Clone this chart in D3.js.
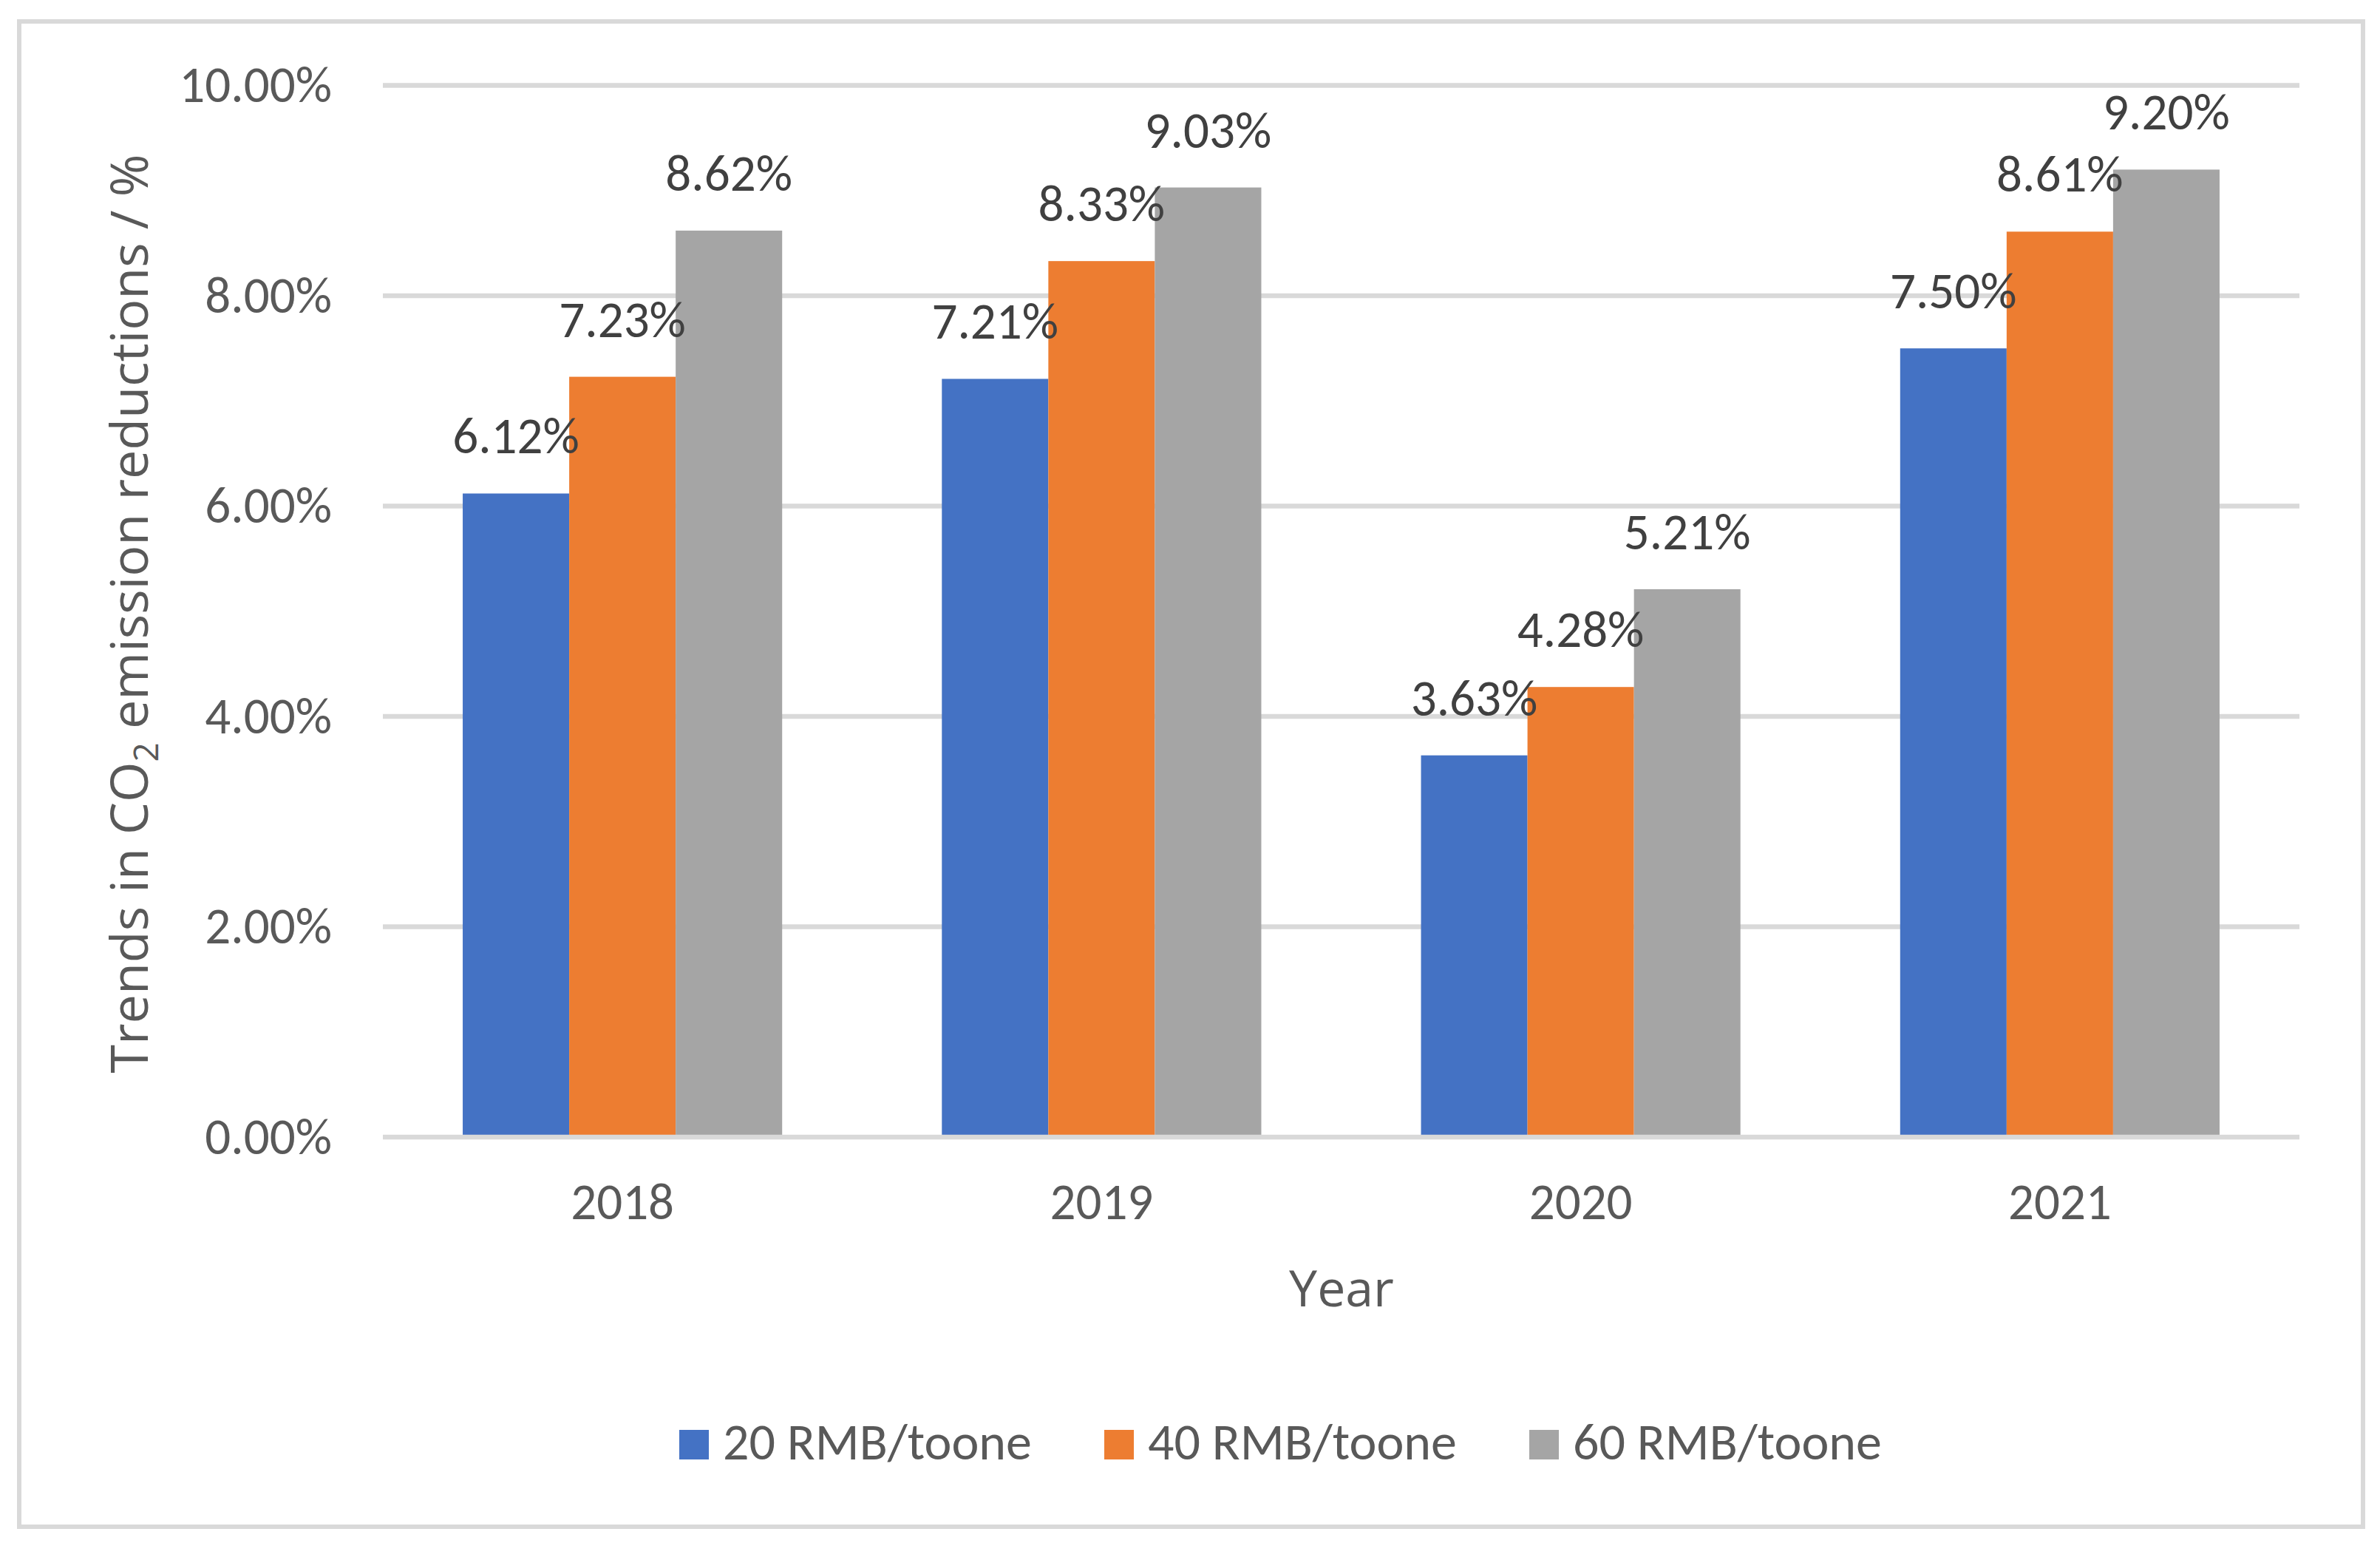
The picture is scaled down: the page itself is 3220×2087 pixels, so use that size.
<!DOCTYPE html>
<html>
<head>
<meta charset="utf-8">
<script src="https://cdn.jsdelivr.net/npm/d3@7"></script>
<style>
  body { margin: 0; background: #fff; }
</style>
</head>
<body>
<div class="chart"></div>
<script>
// chart data
var years = ["2018", "2019", "2020", "2021"];
var seriesNames = ["20 RMB/toone", "40 RMB/toone", "60 RMB/toone"];
var price20 = [0.0612, 0.0721, 0.0363, 0.0750];
var price40 = [0.0723, 0.0833, 0.0428, 0.0861];
var price60 = [0.0862, 0.0903, 0.0521, 0.0920];
var yTicks = [0, 0.02, 0.04, 0.06, 0.08, 0.10];
var colors = ["#4472C4", "#ED7D31", "#A5A5A5"];

var svgWidth = 3220;
var svgHeight = 2087;

var plot = { left: 518, right: 3111, top: 115.6, bottom: 1538 };

var labelFont = "Carlito, 'Liberation Sans', Arial, sans-serif";
var titleFont = "'Open Sans', 'Noto Sans', sans-serif";

var svg = d3.select(".chart")
  .append("svg")
  .attr("width", svgWidth)
  .attr("height", svgHeight);

svg.append("rect")
  .attr("width", svgWidth)
  .attr("height", svgHeight)
  .attr("fill", "#fff");

// outer chart border
svg.append("rect")
  .attr("x", 26)
  .attr("y", 29)
  .attr("width", 3197 - 26)
  .attr("height", 2065 - 29)
  .attr("fill", "none")
  .attr("stroke", "#D9D9D9")
  .attr("stroke-width", 6);

var x = d3.scaleBand()
  .domain(years)
  .range([plot.left, plot.right]);

// Excel style gap width 150%
var xSub = d3.scaleBand()
  .domain(seriesNames)
  .range([0, x.bandwidth()])
  .paddingOuter(0.75);

var y = d3.scaleLinear()
  .domain([0, 0.10])
  .range([plot.bottom, plot.top]);

var rows = [];
years.forEach(function(yr, i) {
  rows.push({ year: yr, series: seriesNames[0], value: price20[i] });
  rows.push({ year: yr, series: seriesNames[1], value: price40[i] });
  rows.push({ year: yr, series: seriesNames[2], value: price60[i] });
});

// gridlines
svg.append("g")
  .selectAll("line")
  .data(yTicks.filter(function(t) { return t > 0; }))
  .enter()
  .append("line")
  .attr("x1", plot.left)
  .attr("x2", plot.right)
  .attr("y1", d => y(d))
  .attr("y2", d => y(d))
  .attr("stroke", "#D9D9D9")
  .attr("stroke-width", 6.5);

// bars
svg.append("g")
  .selectAll("rect")
  .data(rows)
  .enter()
  .append("rect")
  .attr("x", d => x(d.year) + xSub(d.series))
  .attr("y", d => y(d.value))
  .attr("width", xSub.bandwidth())
  .attr("height", d => y(0) - y(d.value))
  .attr("fill", d => colors[seriesNames.indexOf(d.series)]);

// zero line
svg.append("line")
  .attr("x1", plot.left)
  .attr("x2", plot.right)
  .attr("y1", y(0))
  .attr("y2", y(0))
  .attr("stroke", "#D9D9D9")
  .attr("stroke-width", 6.5);

// data labels
svg.append("g")
  .selectAll("text")
  .data(rows)
  .enter()
  .append("text")
  .attr("x", d => x(d.year) + xSub(d.series) + xSub.bandwidth() / 2)
  .attr("y", d => y(d.value) - 54)
  .attr("text-anchor", "middle")
  .attr("font-family", labelFont)
  .attr("font-size", 69)
  .attr("fill", "#404040")
  .text(d => d3.format(".2%")(d.value));

// y axis labels
var yAxis = d3.axisLeft(y)
  .tickValues(yTicks)
  .tickFormat(d3.format(".2%"))
  .tickSize(0)
  .tickPadding(0);

var yAxisG = svg.append("g")
  .attr("transform", "translate(449,0)")
  .call(yAxis);
yAxisG.select(".domain").remove();
yAxisG.selectAll("text")
  .attr("font-family", labelFont)
  .attr("font-size", 69)
  .attr("fill", "#595959");

// x axis labels
var xAxis = d3.axisBottom(x).tickSize(0).tickPadding(0);
var xAxisG = svg.append("g")
  .attr("transform", "translate(0,1649)")
  .call(xAxis);
xAxisG.select(".domain").remove();
xAxisG.selectAll("text")
  .attr("dy", 0)
  .attr("font-family", labelFont)
  .attr("font-size", 69)
  .attr("fill", "#595959");

// axis titles
var yTitle = svg.append("text")
  .attr("transform", "translate(200,830) rotate(-90)")
  .attr("text-anchor", "middle")
  .attr("font-family", titleFont)
  .attr("font-size", 70)
  .attr("fill", "#595959");
yTitle.append("tspan").text("Trends in CO");
yTitle.append("tspan").attr("font-size", 46).attr("dy", 14).text("2");
yTitle.append("tspan").attr("dy", -14).text(" emission reductions / %");

svg.append("text")
  .attr("x", 1815)
  .attr("y", 1767)
  .attr("text-anchor", "middle")
  .attr("font-family", titleFont)
  .attr("font-size", 68)
  .attr("fill", "#595959")
  .text("Year");

// legend
var legend = svg.append("g")
  .selectAll("g")
  .data(seriesNames)
  .enter()
  .append("g")
  .attr("transform", (d, i) => `translate(${919 + i * 575},1934)`);

legend.append("rect")
  .attr("width", 40)
  .attr("height", 40)
  .attr("fill", (d, i) => colors[i]);

legend.append("text")
  .attr("x", 59)
  .attr("y", 40)
  .attr("font-family", labelFont)
  .attr("font-size", 70)
  .attr("fill", "#595959")
  .text(d => d);
</script>
</body>
</html>
